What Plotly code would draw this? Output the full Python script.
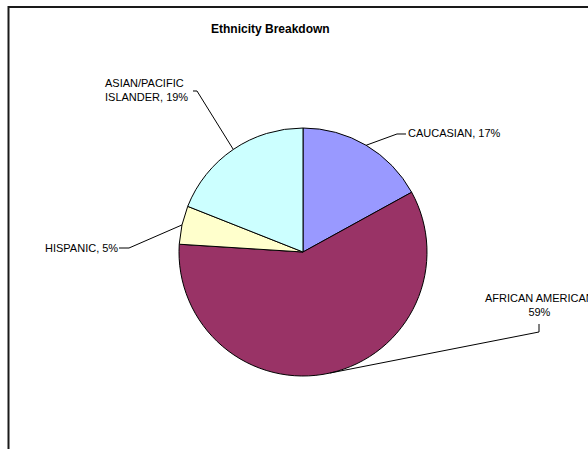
import math
import plotly.graph_objects as go

# ---- data ----
categories = ["CAUCASIAN", "AFRICAN AMERICAN", "HISPANIC", "ASIAN/PACIFIC ISLANDER"]
percents = [17, 59, 5, 19]
colors = ["#9999FF", "#993366", "#FFFFCC", "#CCFFFF"]
label_texts = ["CAUCASIAN, 17%", "AFRICAN AMERICAN<br>59%", "HISPANIC, 5%", "ASIAN/PACIFIC<br>ISLANDER, 19%"]
title_text = "Ethnicity Breakdown"

W, H = 588, 449
CX, CY, R = 303, 252, 124  # pie centre / radius in px (layout)


def px(x):
    return x / W


def py(y):
    return 1 - y / H


fig = go.Figure(go.Pie(
    labels=categories,
    values=percents,
    sort=False,
    direction="clockwise",
    rotation=0,
    marker=dict(colors=colors, line=dict(color="black", width=1)),
    textinfo="none",
    hoverinfo="label+percent",
    showlegend=False,
    domain=dict(x=[px(CX - R), px(CX + R)], y=[py(CY + R), py(CY - R)]),
))

# mid-angle anchor point of each slice on the pie edge (computed from data)
total = sum(percents)
anchors = []
cum = 0
for v in percents:
    mid = (cum + v / 2) / total * 2 * math.pi
    anchors.append((CX + R * math.sin(mid), CY - R * math.cos(mid)))
    cum += v

# label layout: elbow points of leader lines and text placement (px)
leader_elbows = [
    [(397, 134), (406, 134)],
    [(539, 332), (539, 324)],
    [(129, 248), (119, 248)],
    [(197, 91), (193, 91)],
]
text_pos = [
    dict(x=408, y=133, xanchor="left", align="left"),
    dict(x=539, y=305, xanchor="center", align="center"),
    dict(x=118, y=248, xanchor="right", align="right"),
    dict(x=105, y=90, xanchor="left", align="left"),
]

shapes = []
for (ax, ay), elbows in zip(anchors, leader_elbows):
    pts = [(ax, ay)] + elbows
    path = "M " + " L ".join(f"{px(x):.5f},{py(y):.5f}" for x, y in pts)
    shapes.append(dict(type="path", xref="paper", yref="paper", path=path,
                       line=dict(color="black", width=1)))

# chart-area border (extends past right/bottom of the view)
shapes.append(dict(type="rect", xref="paper", yref="paper",
                   x0=px(8.5), x1=1.3, y0=-0.3, y1=py(7),
                   line=dict(color="#1a1a1a", width=2), layer="above"))

annotations = []
for t, p in zip(label_texts, text_pos):
    annotations.append(dict(
        text=t, x=px(p["x"]), y=py(p["y"]), xref="paper", yref="paper",
        xanchor=p["xanchor"], yanchor="middle", align=p["align"],
        showarrow=False, borderpad=0, borderwidth=0,
        font=dict(family="Liberation Sans, Arial, sans-serif", size=11, color="black"),
    ))
annotations.append(dict(
    text=f"<b>{title_text}</b>", x=px(270), y=py(29), xref="paper", yref="paper",
    xanchor="center", yanchor="middle", showarrow=False, borderpad=0, borderwidth=0,
    font=dict(family="Liberation Sans, Arial, sans-serif", size=12, color="black"),
))

fig.update_layout(
    width=W, height=H, autosize=False,
    margin=dict(l=0, r=0, t=0, b=0),
    paper_bgcolor="white", plot_bgcolor="white",
    shapes=shapes, annotations=annotations,
)

fig.write_html("out.html", config={"displayModeBar": False},
               post_script="document.body.style.margin='0';document.body.style.overflow='hidden';")
